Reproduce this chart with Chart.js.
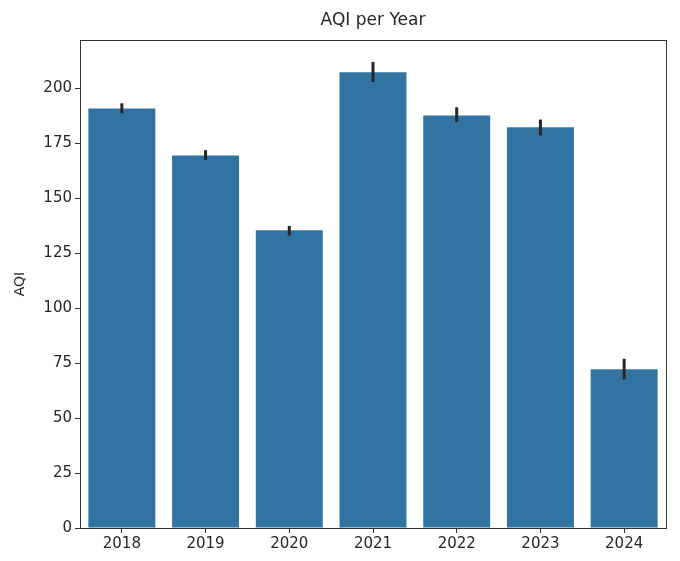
<!DOCTYPE html>
<html>
<head>
<meta charset="utf-8">
<script src="https://cdn.jsdelivr.net/npm/chart.js@4"></script>
<style>
  html, body { margin: 0; padding: 0; background: #fff; }
  #wrap { width: 680px; height: 561px; }
</style>
</head>
<body>
<div id="wrap"><canvas id="chart" width="680" height="561"></canvas></div>
<script>
const years = ["2018", "2019", "2020", "2021", "2022", "2023", "2024"];
const aqi = [190.8, 169.5, 135.5, 207.3, 187.6, 182.3, 72.2];
const errLow = [188.6, 167.4, 133.0, 202.9, 184.7, 178.6, 67.6];
const errHigh = [193.2, 171.9, 137.4, 212.0, 191.4, 185.8, 77.0];
const yTicks = [0, 25, 50, 75, 100, 125, 150, 175, 200];

// black error bars, drawn through the y scale
const errorBars = {
  id: "errorBars",
  afterDatasetsDraw(c) {
    const ctx = c.ctx;
    const meta = c.getDatasetMeta(0);
    const y = c.scales.y;
    ctx.save();
    ctx.strokeStyle = "#262626";
    ctx.lineWidth = 3;
    meta.data.forEach((bar, i) => {
      ctx.beginPath();
      ctx.moveTo(bar.x, y.getPixelForValue(errLow[i]));
      ctx.lineTo(bar.x, y.getPixelForValue(errHigh[i]));
      ctx.stroke();
    });
    ctx.restore();
  }
};

// full box around the axes like matplotlib
const frame = {
  id: "frame",
  afterDraw(c) {
    const a = c.chartArea;
    const ctx = c.ctx;
    ctx.save();
    ctx.strokeStyle = "#333";
    ctx.lineWidth = 1;
    ctx.strokeRect(a.left + 0.5, a.top + 0.5, a.right - a.left, a.bottom - a.top);
    ctx.restore();
  }
};

new Chart(document.getElementById("chart"), {
  type: "bar",
  data: {
    labels: years,
    datasets: [{
      data: aqi,
      backgroundColor: "#3274a1",
      categoryPercentage: 0.8,
      barPercentage: 1.0
    }]
  },
  options: {
    responsive: false,
    animation: false,
    layout: { padding: { left: 0, right: 14, top: 0, bottom: 0 } },
    plugins: {
      legend: { display: false },
      tooltip: { enabled: false },
      title: {
        display: true,
        fullSize: false,
        text: "AQI per Year",
        color: "#262626",
        font: { family: "DejaVu Sans", size: 17, weight: "normal" },
        padding: { top: 10, bottom: 9.6 }
      }
    },
    scales: {
      x: {
        grid: { display: true, drawOnChartArea: false, offset: false, tickLength: 5, color: "#333" },
        border: { color: "#333" },
        ticks: { color: "#262626", font: { family: "DejaVu Sans", size: 15 }, padding: 2 },
        afterFit(s) { s.height = 33; }
      },
      y: {
        min: 0,
        max: 222,
        grid: { drawOnChartArea: false, tickLength: 5, color: "#333" },
        border: { color: "#333" },
        ticks: { color: "#262626", font: { family: "DejaVu Sans", size: 15 }, padding: 3 },
        afterBuildTicks(s) { s.ticks = yTicks.map(v => ({ value: v })); },
        title: {
          display: true,
          text: "AQI",
          color: "#262626",
          font: { family: "DejaVu Sans", size: 14 },
          padding: { top: 12, bottom: 4 }
        },
        afterFit(s) { s.width = 80; }
      }
    }
  },
  plugins: [errorBars, frame]
});
</script>
</body>
</html>
